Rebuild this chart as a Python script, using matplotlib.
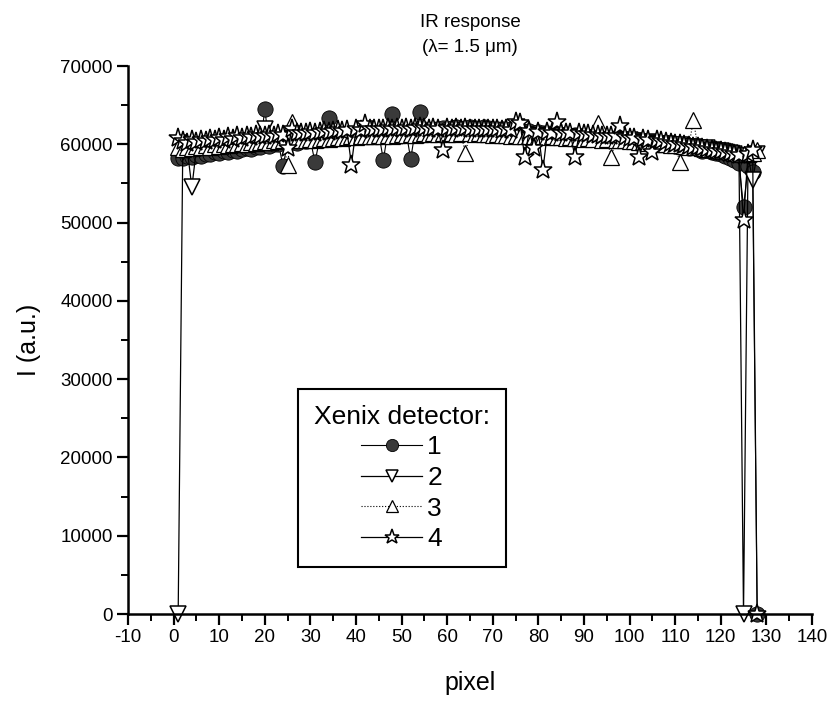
import numpy as np
import matplotlib.pyplot as plt
from matplotlib.ticker import MultipleLocator

plt.rcParams['font.family'] = ['Liberation Sans', 'DejaVu Sans']
plt.rcParams['axes.unicode_minus'] = False

pixels = list(range(1, 129))

# detector readings, in thousands of a.u.
det1 = [58.2, 58.3, 58.5, 58.4, 58.6, 58.5, 58.8, 58.7, 59.0, 58.9,
        59.1, 59.0, 59.3, 59.2, 59.4, 59.5, 59.4, 59.7, 59.6, 64.5,
        59.8, 60.0, 60.1, 57.2, 60.2, 60.3, 60.2, 60.5, 60.4, 60.6,
        57.7, 60.6, 60.8, 63.3, 60.9, 61.0, 60.9, 61.1, 61.2, 61.1,
        61.3, 61.2, 61.4, 61.5, 61.4, 58.0, 61.6, 63.9, 61.5, 61.7,
        61.6, 58.1, 61.8, 64.1, 61.9, 61.8, 62.0, 61.9, 62.1, 62.0,
        62.1, 62.2, 62.0, 62.1, 62.2, 62.1, 62.0, 62.2, 62.1, 62.0,
        61.9, 62.0, 61.8, 61.9, 61.7, 61.8, 61.6, 61.7, 61.5, 61.6,
        61.4, 61.5, 61.3, 61.4, 61.2, 61.3, 61.1, 61.2, 61.0, 61.1,
        60.9, 61.0, 60.8, 60.9, 60.7, 60.8, 60.6, 60.7, 60.5, 60.6,
        60.4, 60.5, 60.3, 60.2, 60.3, 60.1, 60.0, 59.9, 60.0, 59.8,
        59.7, 59.6, 59.5, 59.6, 59.4, 59.2, 59.3, 59.0, 58.9, 58.7,
        58.5, 58.3, 58.0, 57.6, 52.0, 57.2, 56.5, 0.0]

det2 = [0.0, 59.0, 59.3, 54.5, 59.4, 59.5, 59.6, 59.5, 59.7, 59.6,
        59.8, 59.7, 59.9, 59.8, 60.0, 59.9, 60.1, 60.0, 60.2, 62.0,
        60.2, 60.3, 60.2, 60.4, 60.3, 60.5, 60.4, 60.5, 60.6, 60.5,
        60.6, 60.7, 60.6, 60.8, 60.7, 60.8, 60.9, 60.8, 60.9, 61.0,
        60.9, 61.0, 61.1, 61.0, 61.1, 61.0, 61.2, 61.1, 61.2, 61.1,
        61.2, 61.3, 61.2, 61.3, 61.2, 61.3, 61.4, 61.3, 61.4, 61.3,
        61.4, 61.3, 61.4, 61.3, 61.4, 61.3, 61.4, 61.3, 61.4, 61.3,
        61.3, 61.2, 61.3, 61.2, 61.2, 61.1, 61.2, 61.1, 61.1, 61.0,
        61.1, 61.0, 61.0, 60.9, 61.0, 60.9, 60.8, 60.9, 60.8, 60.7,
        60.8, 60.7, 60.6, 60.7, 60.6, 60.5, 60.6, 60.5, 60.4, 60.5,
        60.4, 60.3, 60.2, 60.3, 60.2, 60.1, 60.0, 60.1, 59.9, 59.8,
        59.9, 59.7, 59.6, 59.7, 59.5, 59.4, 59.5, 59.3, 59.2, 59.1,
        59.0, 58.9, 58.7, 58.5, 0.0, 58.5, 55.4, 58.8]

det3 = [59.6, 59.4, 59.7, 59.5, 59.8, 59.6, 59.9, 59.7, 60.0, 59.8,
        60.0, 59.9, 60.1, 60.0, 60.2, 60.1, 60.3, 60.2, 60.3, 60.4,
        60.3, 60.5, 60.4, 60.5, 57.3, 62.8, 60.5, 60.6, 60.5, 60.7,
        60.6, 60.7, 60.8, 60.7, 60.8, 60.9, 60.8, 60.9, 61.0, 60.9,
        61.0, 61.1, 61.0, 61.1, 61.2, 61.1, 61.2, 61.1, 61.2, 61.3,
        61.2, 61.3, 61.2, 61.3, 61.4, 61.3, 61.4, 61.3, 61.4, 61.3,
        61.4, 61.3, 61.4, 58.9, 61.4, 61.3, 61.4, 61.3, 61.3, 61.2,
        61.3, 61.2, 61.2, 61.1, 61.2, 61.1, 61.1, 61.0, 61.1, 61.0,
        61.0, 60.9, 61.0, 60.9, 60.9, 60.8, 60.9, 60.8, 60.8, 60.7,
        60.8, 60.7, 62.7, 60.6, 60.7, 58.4, 60.6, 60.5, 60.5, 60.4,
        60.4, 60.3, 60.3, 60.2, 60.2, 60.1, 60.1, 60.0, 59.9, 59.9,
        57.8, 59.8, 59.7, 63.1, 59.6, 59.5, 59.4, 59.4, 59.3, 59.2,
        59.1, 59.0, 58.9, 58.8, 58.8, 58.7, 58.9, 59.3]

det4 = [60.8, 60.4, 60.2, 60.5, 60.3, 60.6, 60.4, 60.7, 60.5, 60.8,
        60.6, 60.9, 60.7, 61.0, 60.8, 61.1, 60.9, 61.2, 61.0, 61.1,
        61.2, 61.1, 61.3, 61.2, 59.5, 62.0, 61.5, 61.4, 61.5, 61.6,
        61.5, 61.6, 61.7, 61.6, 61.7, 61.8, 61.7, 61.8, 57.4, 61.9,
        61.8, 62.6, 61.9, 62.0, 61.9, 62.0, 62.1, 62.0, 62.1, 62.0,
        62.1, 62.0, 62.1, 62.2, 62.1, 62.0, 62.1, 62.0, 59.3, 62.1,
        62.0, 62.1, 62.0, 62.1, 62.0, 61.9, 62.0, 61.9, 62.0, 61.9,
        61.9, 61.8, 61.9, 61.8, 62.9, 62.7, 58.4, 61.7, 59.5, 61.6,
        56.7, 61.6, 61.5, 62.9, 61.5, 61.4, 61.5, 58.4, 61.4, 61.3,
        61.3, 61.2, 61.2, 61.1, 61.1, 61.0, 61.0, 62.4, 60.9, 60.8,
        60.8, 58.4, 60.7, 60.6, 59.0, 60.5, 60.4, 60.3, 60.2, 60.1,
        60.0, 59.9, 59.8, 59.7, 59.6, 59.5, 59.4, 59.3, 59.2, 59.1,
        59.0, 58.9, 58.8, 58.6, 50.3, 58.8, 59.3, 0.0]

fig = plt.figure(figsize=(8.34, 7.03), dpi=100)
ax = fig.add_axes([0.1535, 0.1266, 0.82, 0.7795])

x = np.array(pixels)
ax.plot(x, np.array(det1) * 1000, color='black', lw=0.8, marker='o', ms=11,
        mfc='#3a3a3a', mec='black', mew=0.6, clip_on=False, label='1')
ax.plot(x, np.array(det2) * 1000, color='black', lw=0.9, marker='v', ms=11,
        mfc='white', mec='black', mew=1.1, clip_on=False, label='2')
ax.plot(x, np.array(det3) * 1000, color='black', lw=0.8, ls=':', marker='^', ms=11,
        mfc='white', mec='black', mew=0.9, clip_on=False, label='3')
ax.plot(x, np.array(det4) * 1000, color='black', lw=0.9, marker='*', ms=14,
        mfc='white', mec='black', mew=1.1, clip_on=False, label='4')

ax.set_xlim(-10, 140)
ax.set_ylim(0, 70000)
ax.xaxis.set_major_locator(MultipleLocator(10))
ax.xaxis.set_minor_locator(MultipleLocator(5))
ax.yaxis.set_major_locator(MultipleLocator(10000))
ax.yaxis.set_minor_locator(MultipleLocator(5000))

ax.spines['top'].set_visible(False)
ax.spines['right'].set_visible(False)
ax.spines['left'].set_linewidth(1.8)
ax.spines['bottom'].set_linewidth(1.8)
ax.tick_params(which='major', direction='out', length=8, width=1.6, labelsize=13.5, pad=3)
ax.tick_params(which='minor', direction='out', length=5, width=1.4)

ax.set_xlabel('pixel', fontsize=18, labelpad=18)
ax.set_ylabel('I (a.u.)', fontsize=18, labelpad=14)
ax.set_title('IR response\n(\u03bb= 1.5 \u03bcm)', fontsize=13.5, pad=10, linespacing=1.6)

leg = ax.legend(title='Xenix detector:', loc='lower left',
                bbox_to_anchor=(0.2485, 0.0858), borderaxespad=0,
                fontsize=19, title_fontsize=19, frameon=True, fancybox=False,
                edgecolor='black', handlelength=2.3, labelspacing=0.25,
                handletextpad=0.2, borderpad=0.6, framealpha=1, markerscale=0.8)
leg.get_frame().set_linewidth(1.5)

plt.savefig('out.png', dpi=100)
